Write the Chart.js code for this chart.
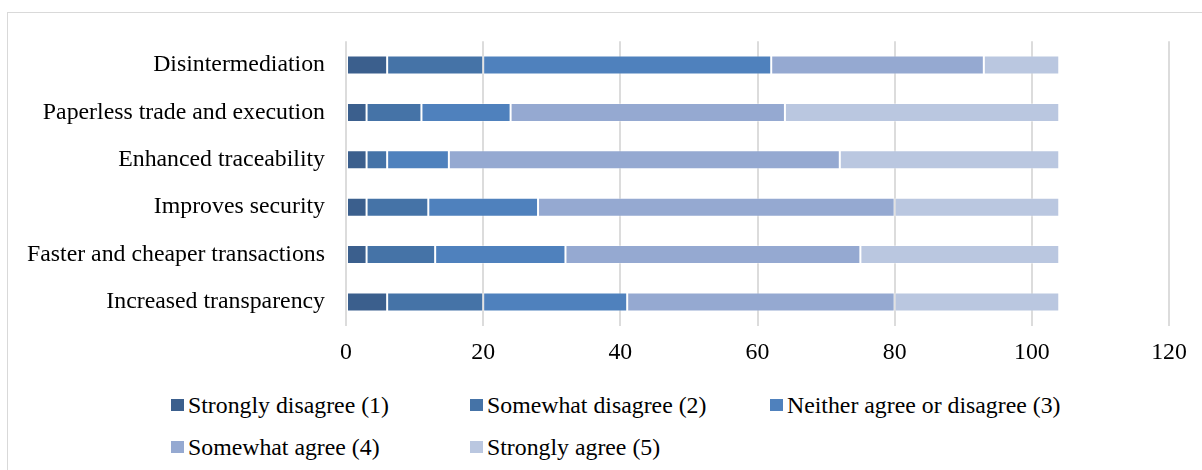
<!DOCTYPE html>
<html>
<head>
<meta charset="utf-8">
<script src="https://cdn.jsdelivr.net/npm/chart.js@4"></script>
<style>
  html, body { margin: 0; padding: 0; background: #fff; }
  #wrap { position: relative; width: 1202px; height: 470px; overflow: hidden; }
  #frame { position: absolute; left: 7px; top: 12px; width: 1210px; height: 480px; border: 1px solid #d9d9d9; box-sizing: border-box; }
  #chart { position: absolute; left: 0; top: 0; }
  #legend { position: absolute; left: 171px; top: 391px; display: grid; grid-template-columns: 299px 300px 300px; row-gap: 14px;
            font-family: "Liberation Serif", "Times New Roman", serif; font-size: 23.8px; color: #000; }
  .item { display: flex; align-items: center; height: 28px; white-space: nowrap; }
  .box { width: 13px; height: 12px; margin-right: 4px; flex: none; }
</style>
</head>
<body>
<div id="wrap">
  <div id="frame"></div>
  <canvas id="chart" width="1202" height="380"></canvas>
  <div id="legend"></div>
</div>
<script>
// Survey categories and the count of answers on each level of the 1–5 scale
const categories = [
  'Disintermediation',
  'Paperless trade and execution',
  'Enhanced traceability',
  'Improves security',
  'Faster and cheaper transactions',
  'Increased transparency'
];
const stronglyDisagree = [6, 3, 3, 3, 3, 6];
const somewhatDisagree = [14, 8, 3, 9, 10, 14];
const neitherAgree     = [42, 13, 9, 16, 19, 21];
const somewhatAgree    = [31, 40, 57, 52, 43, 39];
const stronglyAgree    = [11, 40, 32, 24, 29, 24];
const xTicks = [0, 20, 40, 60, 80, 100, 120];

const seriesNames = [
  'Strongly disagree (1)',
  'Somewhat disagree (2)',
  'Neither agree or disagree (3)',
  'Somewhat agree (4)',
  'Strongly agree (5)'
];
const seriesValues = [stronglyDisagree, somewhatDisagree, neitherAgree, somewhatAgree, stronglyAgree];
const seriesColors = ['#3b5f8d', '#4573a7', '#4f81bd', '#95a9d1', '#bac7e0'];

const fontFamily = '"Liberation Serif", "Times New Roman", serif';

const chart = new Chart(document.getElementById('chart'), {
  type: 'bar',
  data: {
    labels: categories,
    datasets: seriesNames.map((name, i) => ({
      label: name,
      data: seriesValues[i],
      backgroundColor: seriesColors[i],
      borderColor: 'rgba(255,255,255,0.3)',
      borderWidth: 1,
      borderSkipped: false,
      categoryPercentage: 0.4,
      barPercentage: 1
    }))
  },
  options: {
    indexAxis: 'y',
    responsive: false,
    animation: false,
    devicePixelRatio: 1,
    layout: { padding: { top: 41.3, left: 0, right: 33, bottom: 0 } },
    plugins: { legend: { display: false }, tooltip: { enabled: false } },
    scales: {
      x: {
        stacked: true,
        min: 0,
        max: 120,
        afterBuildTicks: (scale) => { scale.ticks = xTicks.map(v => ({ value: v })); },
        afterFit: (scale) => { scale.height = 54.3; },
        grid: { color: '#dcdcdc', lineWidth: 2, drawTicks: false },
        border: { display: false },
        ticks: { color: '#000', padding: 13, font: { family: fontFamily, size: 23.8 } }
      },
      y: {
        stacked: true,
        afterFit: (scale) => { scale.width = 346; },
        grid: { display: false, drawTicks: false },
        border: { display: false },
        ticks: { color: '#000', padding: 21, font: { family: fontFamily, size: 23.8 } }
      }
    }
  }
});

// Legend laid out in a fixed grid from the chart's own datasets
const legend = document.getElementById('legend');
chart.data.datasets.forEach(ds => {
  const item = document.createElement('div');
  item.className = 'item';
  const box = document.createElement('span');
  box.className = 'box';
  box.style.background = ds.backgroundColor;
  const text = document.createElement('span');
  text.textContent = ds.label;
  item.appendChild(box);
  item.appendChild(text);
  legend.appendChild(item);
});
</script>
</body>
</html>
